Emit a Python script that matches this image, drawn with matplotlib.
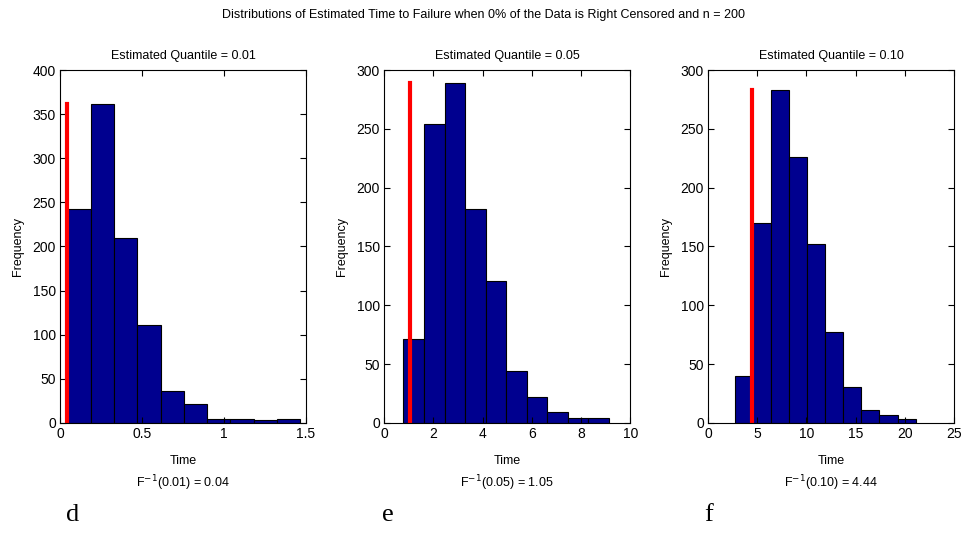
import matplotlib
matplotlib.use('Agg')
import matplotlib.pyplot as plt
import numpy as np

plt.rcParams['font.family'] = ['Liberation Sans', 'DejaVu Sans']

# bin edges (first, last) and counts, 10 bins each
edges_001 = (0.047, 1.465)
counts_001 = [243, 362, 210, 111, 36, 22, 4, 5, 3, 4]
edges_005 = (0.78, 9.13)
counts_005 = [71, 254, 289, 182, 121, 44, 22, 9, 4, 4]
edges_010 = (2.75, 21.09)
counts_010 = [40, 170, 283, 226, 152, 77, 31, 11, 7, 3]

quantiles = ['0.01', '0.05', '0.10']
true_values = [0.04, 1.05, 4.44]
true_labels = ['0.04', '1.05', '4.44']
xlims = [(0, 1.5), (0, 10), (0, 25)]
xticks = [[0, 0.5, 1, 1.5], [0, 2, 4, 6, 8, 10], [0, 5, 10, 15, 20, 25]]
xticklabels = [['0', '0.5', '1', '1.5'], ['0', '2', '4', '6', '8', '10'],
               ['0', '5', '10', '15', '20', '25']]
ylims = [(0, 400), (0, 300), (0, 300)]
panel_letters = ['d', 'e', 'f']

fig = plt.figure(figsize=(9.67, 5.34), dpi=100)
fig.text(0.5, 0.972, 'Distributions of Estimated Time to Failure when 0% of the Data is Right Censored and n = 200',
         ha='center', va='center', fontsize=9)

lefts = [0.062, 0.3974, 0.7322]
letter_x = [0.0755, 0.401, 0.733]
all_edges = [edges_001, edges_005, edges_010]
all_counts = [counts_001, counts_005, counts_010]

for i in range(3):
    ax = fig.add_axes([lefts[i], 0.2079, 0.2544, 0.661])
    lo, hi = all_edges[i]
    counts = np.array(all_counts[i])
    bins = np.linspace(lo, hi, len(counts) + 1)
    ax.hist(bins[:-1], bins=bins, weights=counts, color='#00008f',
            edgecolor='black', linewidth=0.8)
    ax.plot([true_values[i], true_values[i]], [0, counts.max()], color='red', linewidth=3)
    ax.set_xlim(*xlims[i])
    ax.set_ylim(*ylims[i])
    ax.set_xticks(xticks[i])
    ax.set_xticklabels(xticklabels[i])
    ax.set_yticks(np.arange(ylims[i][0], ylims[i][1] + 1, 50))
    ax.tick_params(direction='in', top=True, right=True, labelsize=10, length=4, pad=3)
    ax.set_title('Estimated Quantile = ' + quantiles[i], fontsize=9, pad=8)
    ax.set_ylabel('Frequency', fontsize=9, labelpad=6)
    ax.set_xlabel('Time', fontsize=9, labelpad=10)
    ax.text(0.5, -0.172, r'F$^{-1}$(' + quantiles[i] + ') = ' + true_labels[i],
            transform=ax.transAxes, ha='center', va='center', fontsize=9)
    fig.text(letter_x[i], 0.036, panel_letters[i], ha='center', va='center',
             fontsize=19, family='Liberation Serif')

fig.savefig('out.png', dpi=100)
